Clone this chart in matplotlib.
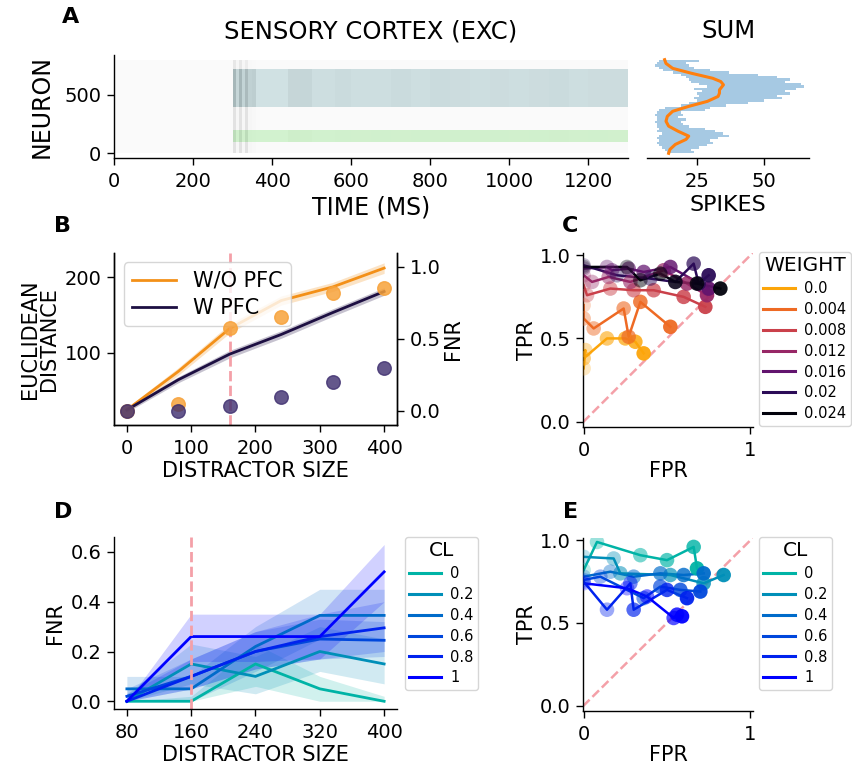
import numpy as np
import matplotlib
matplotlib.use('Agg')
import matplotlib.pyplot as plt
from matplotlib.colors import to_rgba

plt.rcParams['font.family'] = ['DejaVu Sans']
plt.rcParams['xtick.major.size'] = 5
plt.rcParams['ytick.major.size'] = 5
plt.rcParams['xtick.major.pad'] = 5
plt.rcParams['ytick.major.pad'] = 4
plt.rcParams['xtick.major.width'] = 1.0
plt.rcParams['ytick.major.width'] = 1.0
plt.rcParams['axes.linewidth'] = 1.0

# ---------------- data ----------------
# Panel A raster: coarse spike density read off the raster (rows = neuron bands, cols = time bins)
raster_time_edges = [0, 300, 308, 316, 324, 332, 340, 350, 360, 440, 470, 500, 560, 600,
                     650, 700, 750, 800, 850, 900, 950, 1000, 1050, 1100, 1150, 1200, 1250, 1300]
raster_neuron_edges = [0, 100, 200, 400, 720, 800]
raster_density = [
    [0.08, 0.40, 0.15, 0.40, 0.15, 0.40, 0.15, 0.12, 0.08, 0.08, 0.08, 0.08, 0.08, 0.08,
     0.08, 0.08, 0.08, 0.08, 0.08, 0.08, 0.08, 0.08, 0.08, 0.08, 0.08, 0.08, 0.08],
    [0.08, 0.60, 0.25, 0.60, 0.25, 0.60, 0.22, 0.18, 0.15, 0.28, 0.25, 0.18, 0.22, 0.20,
     0.22, 0.20, 0.22, 0.20, 0.22, 0.20, 0.22, 0.20, 0.22, 0.24, 0.20, 0.22, 0.20],
    [0.08, 0.40, 0.15, 0.40, 0.15, 0.40, 0.15, 0.12, 0.08, 0.08, 0.08, 0.08, 0.08, 0.08,
     0.08, 0.08, 0.08, 0.08, 0.08, 0.08, 0.08, 0.08, 0.08, 0.08, 0.08, 0.08, 0.08],
    [0.08, 0.85, 0.40, 0.85, 0.45, 0.80, 0.50, 0.55, 0.18, 0.40, 0.42, 0.26, 0.32, 0.28,
     0.26, 0.32, 0.26, 0.32, 0.29, 0.26, 0.29, 0.27, 0.30, 0.32, 0.28, 0.30, 0.29],
    [0.08, 0.35, 0.15, 0.35, 0.15, 0.30, 0.12, 0.10, 0.08, 0.09, 0.09, 0.08, 0.09, 0.08,
     0.09, 0.08, 0.09, 0.08, 0.09, 0.08, 0.09, 0.08, 0.09, 0.08, 0.09, 0.08, 0.09],
]
memory_band = (400, 720)
distractor_band = (100, 200)
stim_window = (300, 1300)

# Panel A sum: envelope of spike counts per neuron bin (20 neurons per bin)
sum_bin_edges = list(range(0, 801, 20))
sum_low = [14, 13, 12, 11, 10, 11, 10, 11, 12, 10, 11, 10, 10, 9.5, 10, 10, 9.5, 10, 11, 13,
           19, 22, 25, 24, 26, 25, 27, 24, 29, 26, 23, 22, 21, 19, 16, 12.5, 11, 9.5, 10, 11]
sum_high = [24, 23, 26, 29, 31, 30, 33, 37, 35, 32, 28, 22, 20, 19, 21, 18, 20, 19, 28, 30,
            36, 44, 50, 57, 55, 60, 58, 62, 65, 64, 58, 60, 55, 48, 37, 30, 24, 22, 21, 26]
sum_smooth_neuron = [0, 34, 76, 119, 147, 189, 232, 274, 316, 359, 401, 444, 486, 514, 542,
                     585, 613, 641, 684, 726, 768, 800]
sum_smooth_value = [14.5, 15, 17, 21, 22, 18, 14.5, 13.5, 14, 16, 22, 29, 33, 33.5, 33.5,
                    35, 34, 31, 23, 16, 13.5, 13]

# Panel B
dist_b = [0, 80, 160, 240, 320, 400]
eucl_wo = [24, 75, 132, 169, 187, 212]
eucl_wo_err = [3, 5, 6, 6, 6, 7]
eucl_w = [24, 64, 98, 124, 153, 181]
eucl_w_err = [3, 4, 5, 5, 5, 5]
fnr_wo = [0.0, 0.045, 0.573, 0.653, 0.815, 0.854]
fnr_w = [0.0, 0.0, 0.035, 0.097, 0.197, 0.294]

# Panel C (FPR, TPR per PFC weight)
weight_labels = ['0.0', '0.004', '0.008', '0.012', '0.016', '0.02', '0.024']
c_fpr = [
    [0.00, 0.01, 0.00, 0.14, 0.25, 0.31, 0.36],
    [0.00, 0.00, 0.06, 0.24, 0.27, 0.34, 0.52],
    [0.00, 0.02, 0.16, 0.30, 0.42, 0.60, 0.73],
    [0.00, 0.05, 0.15, 0.28, 0.48, 0.62, 0.74],
    [0.00, 0.14, 0.17, 0.27, 0.36, 0.52, 0.75],
    [0.00, 0.20, 0.40, 0.55, 0.66, 0.69, 0.75],
    [0.00, 0.26, 0.34, 0.46, 0.55, 0.68, 0.82],
]
c_tpr = [
    [0.32, 0.43, 0.38, 0.50, 0.50, 0.48, 0.41],
    [0.70, 0.62, 0.56, 0.68, 0.51, 0.72, 0.57],
    [0.82, 0.76, 0.80, 0.79, 0.79, 0.75, 0.69],
    [0.88, 0.84, 0.87, 0.84, 0.91, 0.83, 0.76],
    [0.92, 0.93, 0.91, 0.92, 0.90, 0.93, 0.80],
    [0.94, 0.88, 0.86, 0.84, 0.95, 0.83, 0.88],
    [0.93, 0.93, 0.85, 0.89, 0.84, 0.83, 0.80],
]

# Panel D
cl_labels = ['0', '0.2', '0.4', '0.6', '0.8', '1']
dist_d = [80, 160, 240, 320, 400]
d_mean = [
    [0.00, 0.00, 0.15, 0.05, 0.00],
    [0.00, 0.15, 0.10, 0.20, 0.15],
    [0.05, 0.05, 0.22, 0.345, 0.345],
    [0.02, 0.10, 0.20, 0.25, 0.245],
    [0.00, 0.10, 0.20, 0.26, 0.295],
    [0.00, 0.26, 0.26, 0.26, 0.52],
]
d_low = [
    [0.00, 0.00, 0.06, 0.00, 0.00],
    [0.00, 0.07, 0.03, 0.12, 0.07],
    [0.00, 0.00, 0.12, 0.25, 0.25],
    [0.00, 0.05, 0.13, 0.17, 0.18],
    [0.00, 0.05, 0.13, 0.17, 0.20],
    [0.00, 0.16, 0.16, 0.17, 0.40],
]
d_high = [
    [0.00, 0.02, 0.23, 0.10, 0.02],
    [0.03, 0.23, 0.18, 0.30, 0.25],
    [0.10, 0.10, 0.30, 0.45, 0.45],
    [0.05, 0.17, 0.28, 0.33, 0.32],
    [0.03, 0.17, 0.28, 0.35, 0.40],
    [0.00, 0.35, 0.35, 0.35, 0.63],
]

# Panel E (FPR, TPR per CL)
e_fpr = [
    [0.00, 0.08, 0.34, 0.50, 0.66, 0.68],
    [0.00, 0.18, 0.22, 0.52, 0.72, 0.84],
    [0.00, 0.16, 0.30, 0.46, 0.60, 0.72],
    [0.00, 0.10, 0.36, 0.46, 0.58, 0.70],
    [0.00, 0.14, 0.28, 0.30, 0.50, 0.62],
    [0.00, 0.26, 0.38, 0.54, 0.56, 0.59],
]
e_tpr = [
    [0.82, 0.99, 0.91, 0.88, 0.96, 0.83],
    [0.90, 0.89, 0.80, 0.79, 0.74, 0.79],
    [0.78, 0.81, 0.78, 0.80, 0.79, 0.80],
    [0.76, 0.78, 0.65, 0.72, 0.70, 0.69],
    [0.75, 0.58, 0.74, 0.58, 0.70, 0.65],
    [0.74, 0.71, 0.66, 0.53, 0.55, 0.54],
]

# ---------------- style ----------------
W, H = 853, 771
fig = plt.figure(figsize=(W / 100, H / 100), dpi=100)


def box(l, r, t, b):
    return [l / W, 1 - b / H, (r - l) / W, (b - t) / H]


TICK = 14
LAB = 15
pink = '#f4a0a8'
orange_c = '#f39018'
navy_c = '#1d0f42'
weight_colors = plt.cm.inferno(np.linspace(0.8, 0.02, 7))
cl_colors = plt.cm.winter(np.linspace(0.7, 0.0, 6))


def style(ax):
    ax.spines['top'].set_visible(False)
    ax.spines['right'].set_visible(False)
    ax.tick_params(labelsize=TICK)


# ---------------- Panel A raster ----------------
axA = fig.add_axes(box(114, 628, 55, 158))
axA.pcolormesh(raster_time_edges, raster_neuron_edges, np.array(raster_density),
               cmap='Greys', vmin=0, vmax=2.0, shading='flat', zorder=0)
axA.add_patch(plt.Rectangle((stim_window[0], memory_band[0]), stim_window[1] - stim_window[0],
                            memory_band[1] - memory_band[0], facecolor='#9cc6cb', alpha=0.4,
                            edgecolor='none', zorder=1))
axA.add_patch(plt.Rectangle((stim_window[0], distractor_band[0]), stim_window[1] - stim_window[0],
                            distractor_band[1] - distractor_band[0], facecolor='#a8eea0', alpha=0.45,
                            edgecolor='none', zorder=1))
axA.set_xlim(0, 1300)
axA.set_ylim(-40, 840)
axA.set_xticks([0, 200, 400, 600, 800, 1000, 1200])
axA.set_yticks([0, 500])
style(axA)
axA.set_xlabel('TIME (MS)', fontsize=17, labelpad=3)
axA.set_ylabel('NEURON', fontsize=17, labelpad=8)
axA.set_title('SENSORY CORTEX (EXC)', fontsize=17.5, pad=12)

# ---------------- Panel A sum ----------------
axS = fig.add_axes(box(647, 809, 55, 158))
axS.fill_betweenx(sum_bin_edges, sum_low + [sum_low[-1]], sum_high + [sum_high[-1]],
                  step='post', color='#a6c9e3', linewidth=0)
axS.plot(sum_smooth_value, sum_smooth_neuron, color='#ff7f0e', lw=2.2)
axS.set_ylim(-40, 840)
axS.set_xlim(6.4, 67)
axS.set_xticks([25, 50])
axS.set_yticks([])
style(axS)
axS.spines['left'].set_visible(False)
axS.set_xlabel('SPIKES', fontsize=16, labelpad=3)
axS.set_title('SUM', fontsize=17.5, pad=12)

# ---------------- Panel B ----------------
axB = fig.add_axes(box(114, 397, 253, 425))
axB.fill_between(dist_b, np.array(eucl_wo) - np.array(eucl_wo_err),
                 np.array(eucl_wo) + np.array(eucl_wo_err), color=orange_c, alpha=0.25, lw=0)
axB.fill_between(dist_b, np.array(eucl_w) - np.array(eucl_w_err),
                 np.array(eucl_w) + np.array(eucl_w_err), color=navy_c, alpha=0.25, lw=0)
axB.plot(dist_b, eucl_wo, color=orange_c, lw=2, label='W/O PFC')
axB.plot(dist_b, eucl_w, color=navy_c, lw=2, label='W PFC')
axB.axvline(160, color=pink, ls='--', lw=2)
axB.set_xlim(-20, 420)
axB.set_ylim(4, 232)
axB.set_yticks([100, 200])
axB.set_xticks([0, 100, 200, 300, 400])
axB.spines['top'].set_visible(False)
axB.tick_params(labelsize=TICK)
axB.set_xlabel('DISTRACTOR SIZE', fontsize=LAB, labelpad=2)
axB.set_ylabel('EUCLIDEAN\nDISTANCE', fontsize=LAB, linespacing=0.95)
axB.legend(loc='upper left', bbox_to_anchor=(0.035, 0.945), borderaxespad=0, fontsize=LAB,
           labelspacing=0.35, handlelength=2.1, borderpad=0.4)
axB2 = axB.twinx()
axB2.scatter(dist_b, fnr_wo, s=95, color='#f7a23a', alpha=0.85, zorder=3)
axB2.scatter(dist_b, fnr_w, s=95, color='#3d2d6e', alpha=0.8, zorder=4)
axB2.set_ylim(-0.1, 1.095)
axB2.set_yticks([0.0, 0.5, 1.0])
axB2.spines['top'].set_visible(False)
axB2.tick_params(labelsize=TICK)
axB2.set_ylabel('FNR', fontsize=LAB, labelpad=2)


# ---------------- Panels C and E ----------------
def roc_panel(ax, fprs, tprs, colors, labels, title, anchor):
    for fp, tp, col, lab in zip(fprs, tprs, colors, labels):
        ax.plot(fp, tp, color=col, lw=1.8, label=lab, zorder=2)
        n = len(fp)
        alphas = np.linspace(0.25, 0.95, n)
        cols = [to_rgba(col, a) for a in alphas]
        ax.scatter(fp, tp, s=110, c=cols, edgecolors='none', zorder=3)
    ax.axline((0, 0), slope=1, color=pink, ls='--', lw=1.8, zorder=1)
    ax.set_xlim(-0.004, 1.016)
    ax.set_ylim(-0.033, 1.014)
    ax.set_xticks([0, 1])
    ax.set_xticklabels(['0', '1'])
    ax.set_yticks([0.0, 0.5, 1.0])
    style(ax)
    ax.set_xlabel('FPR', fontsize=LAB, labelpad=1)
    ax.set_ylabel('TPR', fontsize=LAB, labelpad=2)
    leg = ax.legend(loc='upper left', bbox_to_anchor=anchor, bbox_transform=fig.transFigure,
                    borderaxespad=0, fontsize=10.5, title=title, title_fontsize=14.5,
                    labelspacing=0.4, handlelength=2.2, borderpad=0.3, handletextpad=0.6)
    for h in leg.legend_handles:
        h.set_linewidth(2.2)


axC = fig.add_axes(box(583, 753, 253, 427))
roc_panel(axC, c_fpr, c_tpr, weight_colors, weight_labels, 'WEIGHT', (759 / W, 1 - 252 / H))

# ---------------- Panel D ----------------
axD = fig.add_axes(box(114, 397, 537, 709))
for m, lo, hi, col, lab in zip(d_mean, d_low, d_high, cl_colors, cl_labels):
    axD.fill_between(dist_d, lo, hi, color=col, alpha=0.18, lw=0)
    axD.plot(dist_d, m, color=col, lw=2, label=lab)
axD.axvline(160, color=pink, ls='--', lw=2)
axD.set_xlim(64, 416)
axD.set_ylim(-0.031, 0.66)
axD.set_xticks(dist_d)
axD.set_yticks([0.0, 0.2, 0.4, 0.6])
style(axD)
axD.set_xlabel('DISTRACTOR SIZE', fontsize=LAB, labelpad=2)
axD.set_ylabel('FNR', fontsize=LAB)
legD = axD.legend(loc='upper left', bbox_to_anchor=(405 / W, 1 - 537 / H), bbox_transform=fig.transFigure,
                  borderaxespad=0, fontsize=10.5, title='CL', title_fontsize=14.5,
                  labelspacing=0.4, handlelength=2.2, borderpad=0.3, handletextpad=0.6)
for h in legD.legend_handles:
    h.set_linewidth(2.2)

# ---------------- Panel E ----------------
axE = fig.add_axes(box(583, 753, 538, 711))
roc_panel(axE, e_fpr, e_tpr, cl_colors, cl_labels, 'CL', (759 / W, 1 - 537 / H))

# ---------------- panel letters ----------------
for letter, x, y in [('A', 62, 7), ('B', 54, 216), ('C', 562, 216), ('D', 54, 502), ('E', 563, 502)]:
    fig.text(x / W, 1 - y / H, letter, fontsize=16, fontweight='bold', va='top', ha='left')

fig.savefig('out.png', dpi=100)
